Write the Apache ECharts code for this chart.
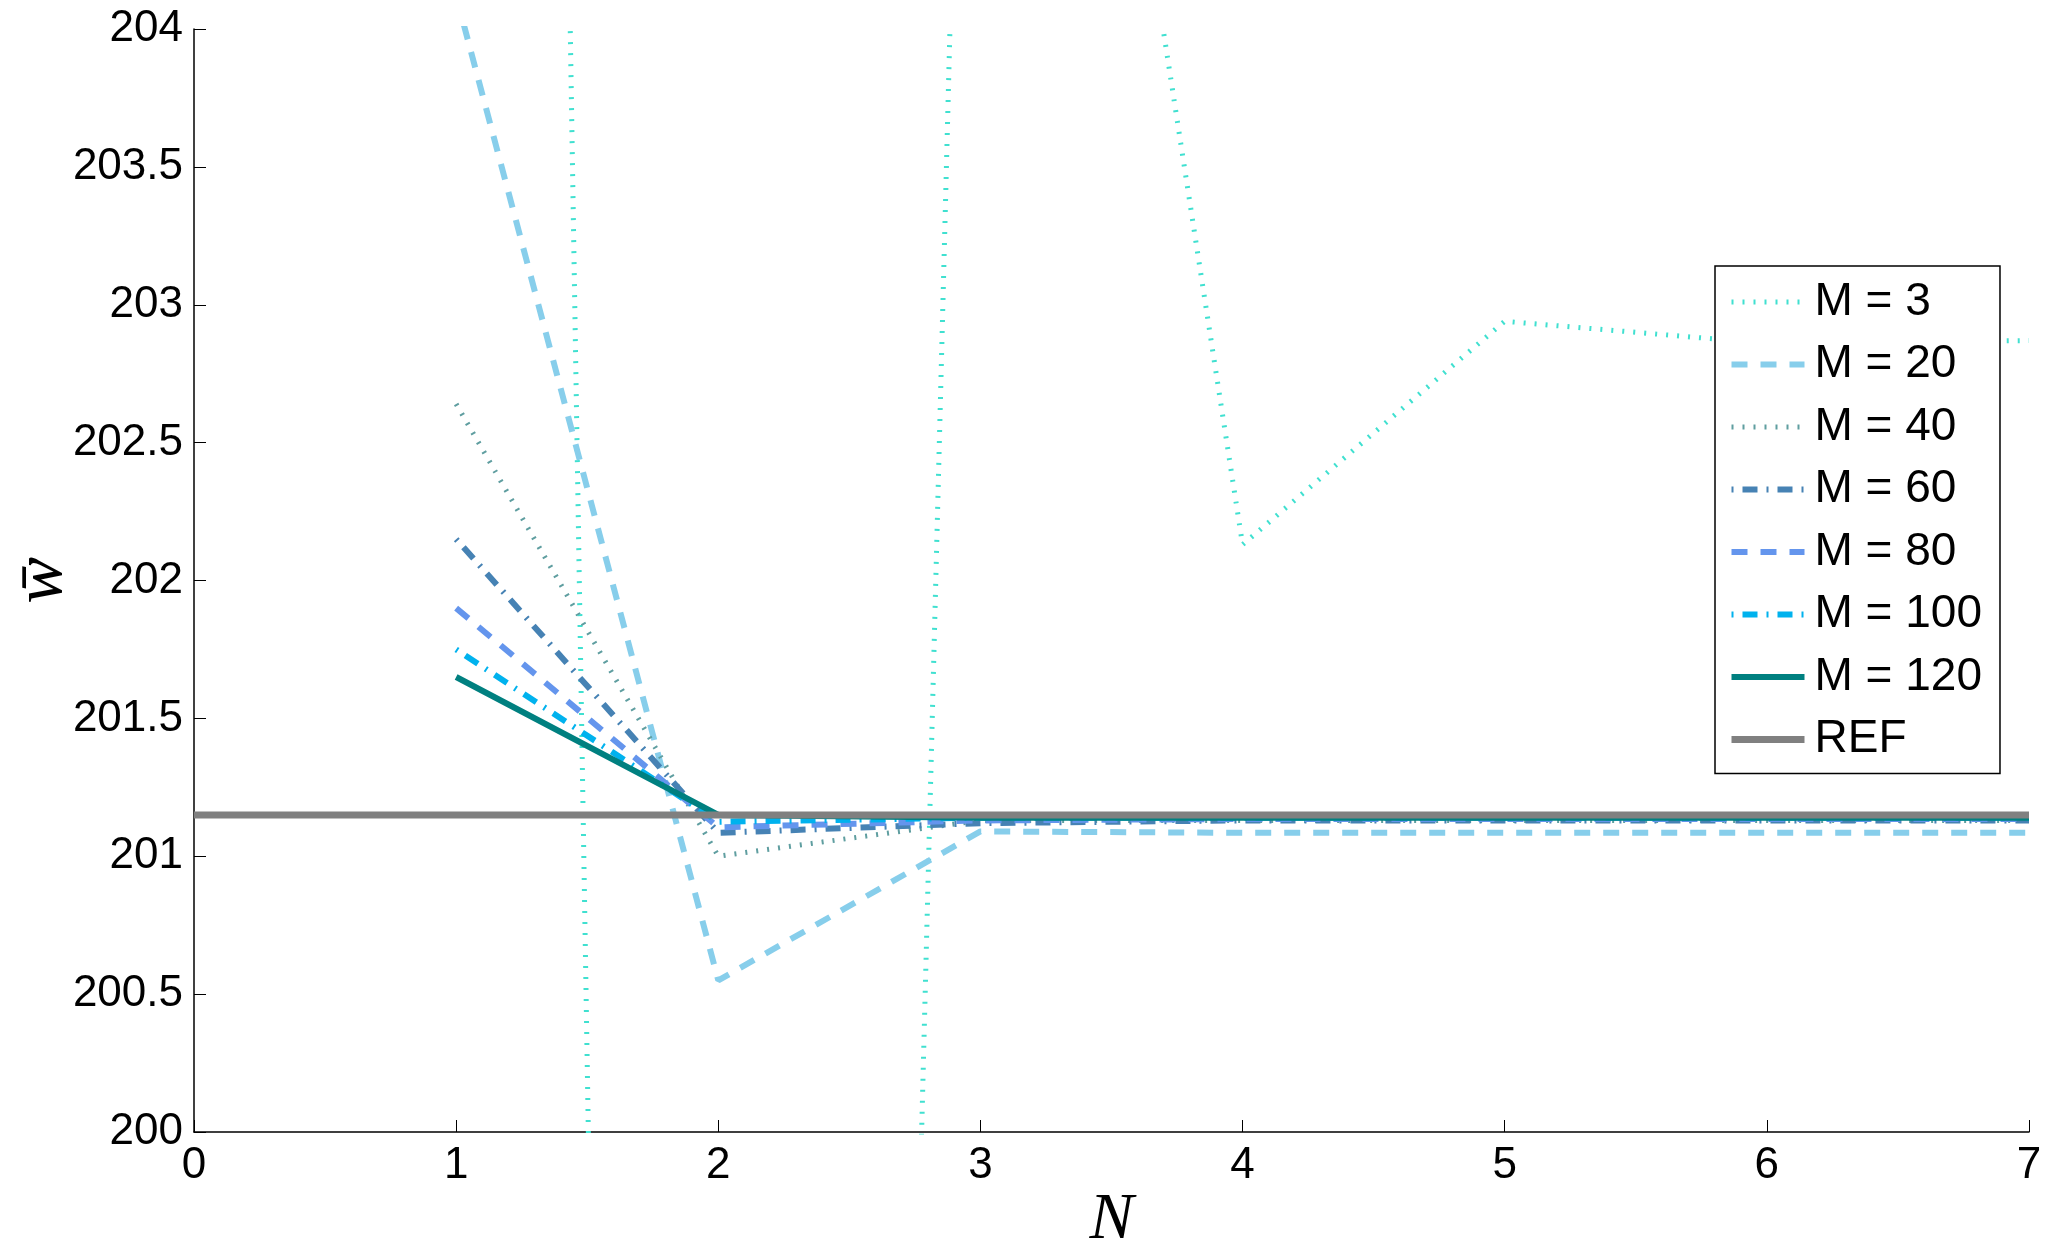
<!DOCTYPE html>
<html>
<head>
<meta charset="utf-8">
<title>w bar vs N</title>
<script src="https://cdn.jsdelivr.net/npm/echarts@6.0.0/dist/echarts.min.js"></script>
<style>
  html, body { margin: 0; padding: 0; background: #fff; }
  #main { width: 2051px; height: 1255px; }
</style>
</head>
<body>
<div id="main"></div>
<script>
// N values (x axis)
var nVals = [1, 2, 3, 4, 5, 6, 7];
var refN = [0, 1, 2, 3, 4, 5, 6, 7];

// mean w for each M
var m3   = [229.2, 171.3, 208.3, 202.13, 202.94, 202.86, 202.87];
var m20  = [204.12, 200.55, 201.09, 201.085, 201.085, 201.085, 201.085];
var m40  = [202.64, 201.0, 201.13, 201.13, 201.13, 201.13, 201.13];
var m60  = [202.15, 201.085, 201.12, 201.13, 201.13, 201.13, 201.13];
var m80  = [201.9, 201.105, 201.13, 201.135, 201.135, 201.135, 201.135];
var m100 = [201.75, 201.125, 201.14, 201.14, 201.14, 201.14, 201.14];
var m120 = [201.65, 201.15, 201.14, 201.14, 201.14, 201.14, 201.14];
var refVals = [201.15, 201.15, 201.15, 201.15, 201.15, 201.15, 201.15, 201.15];

var names = ['M = 3', 'M = 20', 'M = 40', 'M = 60', 'M = 80', 'M = 100', 'M = 120', 'REF'];

function pairs(xs, ys) {
    var out = [];
    for (var i = 0; i < xs.length; i++) out.push([xs[i], ys[i]]);
    return out;
}

var dotted  = [2, 9];
var dashed  = [16, 13];
var dashdot = [2, 9, 15, 9];

var styles = [
    { color: '#40E0D0', type: dotted,  width: 5 },
    { color: '#87CEEB', type: dashed,  width: 6 },
    { color: '#5F9EA0', type: dotted,  width: 5 },
    { color: '#4682B4', type: dashdot, width: 6 },
    { color: '#6495ED', type: dashed,  width: 6 },
    { color: '#00B2EE', type: dashdot, width: 6 },
    { color: '#008080', type: 'solid', width: 6 },
    { color: '#808080', type: 'solid', width: 7 }
];

function mkLine(i, xs, ys) {
    var s = styles[i];
    return {
        name: names[i],
        type: 'line',
        data: pairs(xs, ys),
        symbol: 'none',
        clip: true,
        animation: false,
        lineStyle: { color: s.color, type: s.type, width: s.width, cap: 'butt' },
        itemStyle: { color: s.color }
    };
}

var legendData = names.map(function (n, i) {
    var s = styles[i];
    return {
        name: n,
        itemStyle: { opacity: 0 },
        lineStyle: { color: s.color, type: s.type, width: s.width, cap: 'butt' }
    };
});

var chart = echarts.init(document.getElementById('main'));

var option = {
    backgroundColor: '#fff',
    animation: false,
    grid: { left: 194, right: 22, top: 29, bottom: 123, containLabel: false, outerBoundsMode: 'none' },
    legend: {
        orient: 'vertical',
        left: 1715,
        top: 266,
        data: legendData,
        itemWidth: 73,
        itemHeight: 20,
        itemGap: 14.5,
        padding: [12, 18, 10, 13],
        backgroundColor: '#fff',
        borderColor: '#000',
        borderWidth: 1.5,
        borderRadius: 0,
        selectedMode: false,
        itemStyle: { opacity: 0 },
        textStyle: {
            fontFamily: 'Liberation Sans, Arial, sans-serif',
            fontSize: 46,
            lineHeight: 48,
            color: '#000',
            padding: [0, 0, 0, 5]
        }
    },
    xAxis: {
        type: 'value',
        min: 0,
        max: 7,
        interval: 1,
        name: 'N',
        nameLocation: 'middle',
        nameGap: 56,
        nameMoveOverlap: false,
        nameTextStyle: {
            fontFamily: 'Liberation Serif, DejaVu Serif, serif',
            fontStyle: 'italic',
            fontSize: 66,
            color: '#000'
        },
        axisLine: { show: true, onZero: false, lineStyle: { color: '#000', width: 1.5 } },
        axisTick: { show: true, inside: true, length: 12, lineStyle: { color: '#000', width: 1 } },
        axisLabel: {
            fontFamily: 'Liberation Sans, Arial, sans-serif',
            fontSize: 44,
            color: '#000',
            margin: 12
        },
        splitLine: { show: false }
    },
    yAxis: {
        type: 'value',
        min: 200,
        max: 204,
        interval: 0.5,
        name: 'w\u0304',
        nameLocation: 'middle',
        nameGap: 116,
        nameMoveOverlap: false,
        nameRotate: 90,
        nameTextStyle: {
            fontFamily: 'Liberation Serif, DejaVu Serif, serif',
            fontStyle: 'italic',
            fontSize: 70,
            color: '#000'
        },
        axisLine: { show: true, onZero: false, lineStyle: { color: '#000', width: 1.5 } },
        axisTick: { show: true, inside: true, length: 12, lineStyle: { color: '#000', width: 1 } },
        axisLabel: {
            fontFamily: 'Liberation Sans, Arial, sans-serif',
            fontSize: 44,
            color: '#000',
            margin: 11
        },
        splitLine: { show: false }
    },
    series: [
        mkLine(0, nVals, m3),
        mkLine(1, nVals, m20),
        mkLine(2, nVals, m40),
        mkLine(3, nVals, m60),
        mkLine(4, nVals, m80),
        mkLine(5, nVals, m100),
        mkLine(6, nVals, m120),
        mkLine(7, refN, refVals)
    ]
};

chart.setOption(option);
</script>
</body>
</html>
